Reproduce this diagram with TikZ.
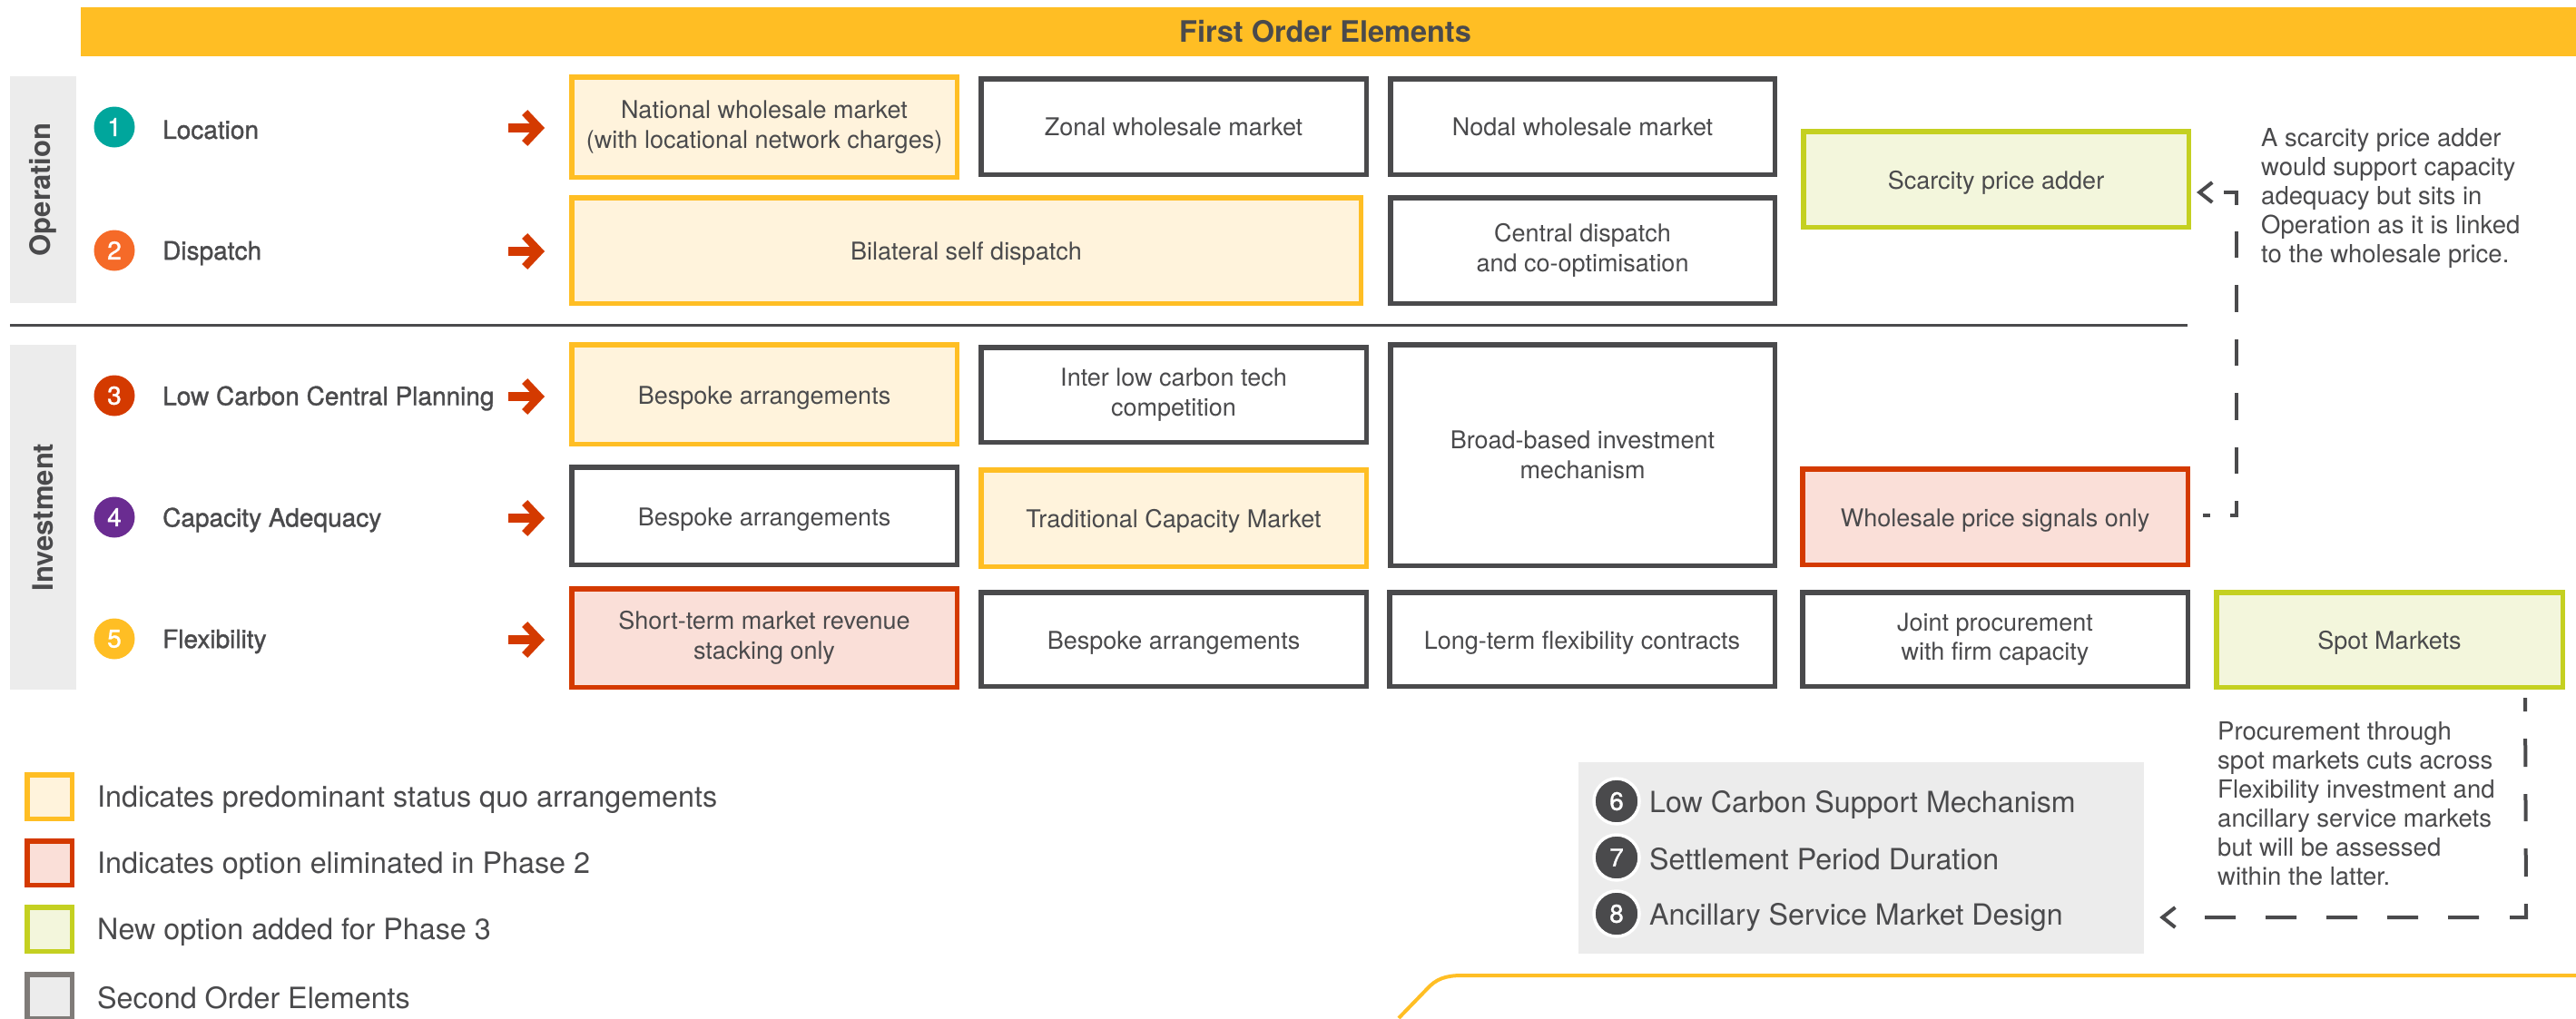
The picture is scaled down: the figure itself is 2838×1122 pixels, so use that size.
\documentclass[tikz,border=0pt]{standalone}
\usepackage{fontspec}
\setmainfont{TeX Gyre Heros}
\newfontfamily\medfont[FakeBold=1.2]{TeX Gyre Heros}
\usetikzlibrary{arrows.meta}
\definecolor{dark}{HTML}{4A4A4C}
\definecolor{amber}{HTML}{FFBE24}
\definecolor{amberfill}{HTML}{FFF3DC}
\definecolor{rust}{HTML}{D43A00}
\definecolor{rustfill}{HTML}{FADFD8}
\definecolor{lime}{HTML}{C4D021}
\definecolor{limefill}{HTML}{F3F6DC}
\definecolor{pale}{HTML}{ECECEC}
\definecolor{stone}{HTML}{7F7B78}
\definecolor{teal}{HTML}{00A69C}
\definecolor{tang}{HTML}{F56A28}
\definecolor{plum}{HTML}{6A2C91}
\tikzset{
	plainbox/.style={draw=dark, fill=white, line width=5.5pt, text=dark, align=center, inner sep=0pt,
		font=\fontsize{27}{32.5}\selectfont},
	optbox/.style={plainbox, execute at begin node={\rule{0pt}{27pt}}},
	statusbox/.style={optbox, draw=amber, fill=amberfill},
	elimbox/.style={optbox, draw=rust, fill=rustfill},
	newbox/.style={optbox, draw=lime, fill=limefill},
	sidebox/.style={fill=pale, text=dark, rotate=90, inner sep=0pt, minimum width=250pt, minimum height=73pt,
		font=\fontsize{31}{34}\bfseries\selectfont},
	numdot/.style={circle, inner sep=0pt, minimum size=45pt, text=white, font=\fontsize{28}{32}\medfont},
	secdot/.style={numdot, fill=dark, draw=white, line width=3.5pt, minimum size=50pt},
	rowlabel/.style={anchor=west, inner sep=0pt, text=dark, font=\fontsize{28}{32}\medfont},
	seclabel/.style={anchor=west, inner sep=0pt, text=dark, font=\fontsize{32.2}{38}\selectfont},
	keylabel/.style={anchor=west, inner sep=0pt, text=dark, font=\fontsize{32.3}{38}\selectfont},
	note/.style={anchor=west, inner sep=0pt, align=left, text=dark, font=\fontsize{27.5}{32}\selectfont},
	rowarrow/.style={draw=rust, line width=10pt, -{Straight Barb[length=16pt,width=34pt,line width=8.5pt]}},
	notearrow/.style={draw=dark, line width=4pt, -{Straight Barb[length=14pt,width=22pt,line width=4pt]}},
	keybox/.style={draw=#1, line width=5.5pt, minimum width=49.5pt, minimum height=48.5pt, inner sep=0pt},
}
\begin{document}
\begin{tikzpicture}[x=1pt, y=-1pt, line join=miter, >=stealth]
	\useasboundingbox (0,0) rectangle (2838,1122);
	\node[fill=amber, minimum width=2749pt, minimum height=54pt, inner sep=0pt, text=dark,
		font=\fontsize{32.5}{36}\bfseries\selectfont] (banner) at (1463.5,35) {\hspace*{-7pt}First Order Elements};
	\node[sidebox] (oper) at (47.5,209) {\raisebox{-2pt}{Operation}};
	\node[sidebox, minimum width=380pt] (inves) at (47.5,570) {\raisebox{-2pt}{Investment}};
	\draw[dark, line width=3pt] (11,358) -- (2410,358);
	\foreach \nm/\st/\xa/\ya/\xb/\yb/\txt in {
		nat/statusbox/627/82/1057/198/{National wholesale market\\(with locational network charges)},
		zon/plainbox/1078/84/1508/195/{Zonal wholesale market},
		nod/plainbox/1529/84/1958/195/{Nodal wholesale market},
		bil/statusbox/627/215/1502/337/{Bilateral self dispatch},
		cen/optbox/1529/215/1958/337/{Central dispatch\\and co-optimisation},
		adder/newbox/1984/142/2414/253/{Scarcity price adder},
		besa/statusbox/627/377/1057/492/{Bespoke arrangements},
		inter/optbox/1078/380/1508/490/{Inter low carbon tech\\competition},
		broad/plainbox/1529/377/1958/626/{Broad-based investment\\mechanism},
		besb/optbox/627/512/1057/625/{Bespoke arrangements},
		trad/statusbox/1078/515/1508/627/{Traditional Capacity Market},
		wsp/elimbox/1983/514/2413/625/{Wholesale price signals only},
		stack/elimbox/627/646/1057/760/{Short-term market revenue\\stacking only},
		besc/optbox/1078/650/1508/759/{Bespoke arrangements},
		longt/optbox/1528/650/1958/759/{Long-term flexibility contracts},
		joint/optbox/1983/650/2413/759/{Joint procurement\\with firm capacity},
		spot/newbox/2439/650/2826/760/{Spot Markets}}
		\node[\st, minimum width=\xb-\xa-5.5, minimum height=\yb-\ya-5.5] (\nm) at ({(\xa+\xb)/2},{(\ya+\yb)/2}) {\txt};
	\foreach \n/\y/\col/\txt in {1/140/teal/Location, 2/276/tang/Dispatch, 3/436/rust/Low Carbon Central Planning,
		4/570/plum/Capacity Adequacy, 5/704/amber/Flexibility}{
		\node[numdot, fill=\col] (num\n) at (126,\y) {\n};
		\node[rowlabel] (row\n) at (179,\y+3) {\txt};
		\path (560,\y+1) coordinate (from\n) (600,\y+1) coordinate (to\n);
		\draw[rowarrow] (from\n) -- (to\n);
	}
	\node[note] (notea) at (2491,218) {A scarcity price adder\\would support capacity\\adequacy but sits in\\Operation as it is linked\\to the wholesale price.};
	\node[note] (noteb) at (2443,885.5) {Procurement through\\spot markets cuts across\\Flexibility investment and\\ancillary service markets\\but will be assessed\\within the latter.};
	\node[fill=pale, minimum width=623pt, minimum height=211pt, inner sep=0pt] (secbox) at (2050.5,945.5) {};
	\foreach \n/\y/\ty/\txt in {6/883/887/Low Carbon Support Mechanism, 7/945/946.5/Settlement Period Duration, 8/1007/1011/Ancillary Service Market Design}{
		\node[secdot] (num\n) at (1781,\y) {\n};
		\node[seclabel] (row\n) at (1817,\ty) {\txt};
	}
	\path (2464,568) coordinate (elbowa) (2464,212) coordinate (elbowb) (2783,1011) coordinate (elbowc);
	\draw[notearrow, dash pattern=on 8pt off 22pt on 23pt off 30pt on 29.5pt off 30pt on 29.5pt off 30pt on 29.5pt off 30pt on 29.5pt off 30pt on 29.5pt off 29pt on 28pt off 60pt]
		([xshift=14pt,yshift=1.5pt]wsp.east) -- (elbowa) -- (elbowb) -- ([xshift=6pt,yshift=-14.5pt]adder.east);
	\draw[notearrow, dash pattern=on 15pt off 30pt on 31pt off 30pt on 30pt off 30pt on 31pt off 30pt on 33pt off 34pt on 34pt off 33pt on 34pt off 33pt on 34pt off 33pt on 34pt off 33pt on 34pt off 60pt]
		([xshift=149.5pt,yshift=-9pt]spot.south) -- (elbowc) -- ([xshift=17pt,yshift=-65.5pt]secbox.east);
	\foreach \n/\y/\ty/\cola/\colb/\txt in {1/878/881.5/amber/amberfill/Indicates predominant status quo arrangements,
		2/951/954.5/rust/rustfill/Indicates option eliminated in Phase 2,
		3/1024/1027.5/lime/limefill/New option added for Phase 3,
		4/1098/1099.5/stone/pale/Second Order Elements}{
		\node[keybox=\cola, fill=\colb] (key\n) at (54.5,\y) {};
		\node[keylabel] (keytxt\n) at (107,\ty) {\txt};
	}
	\draw[amber, line width=4pt] (1541,1122) -- (1572,1090) .. controls (1582,1079) and (1592,1075) .. (1611,1075) -- (2840,1075);
\end{tikzpicture}
\end{document}
